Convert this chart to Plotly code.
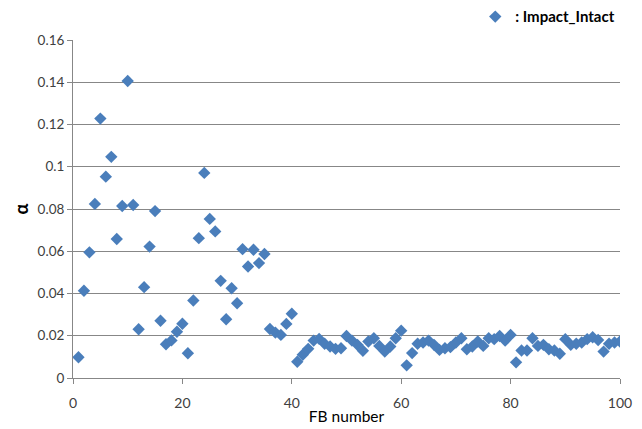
import plotly.graph_objects as go

fb_number = list(range(1, 101))
alpha = [
    0.0098, 0.0413, 0.0595, 0.0824, 0.1228, 0.0953, 0.1047, 0.0658, 0.0814, 0.1406,
    0.0819, 0.0231, 0.0430, 0.0622, 0.0790, 0.0271, 0.0160, 0.0178, 0.0219, 0.0257,
    0.0117, 0.0367, 0.0662, 0.0971, 0.0753, 0.0694, 0.0460, 0.0278, 0.0425, 0.0354,
    0.0610, 0.0528, 0.0607, 0.0544, 0.0587, 0.0232, 0.0215, 0.0204, 0.0256, 0.0304,
    0.0077, 0.0110, 0.0138, 0.0177, 0.0185, 0.0162, 0.0149, 0.0138, 0.0141, 0.0199,
    0.0177, 0.0157, 0.0129, 0.0173, 0.0188, 0.0152, 0.0125, 0.0149, 0.0188, 0.0224,
    0.0060, 0.0118, 0.0162, 0.0168, 0.0177, 0.0157, 0.0133, 0.0141, 0.0146, 0.0168,
    0.0188, 0.0136, 0.0149, 0.0173, 0.0152, 0.0188, 0.0184, 0.0199, 0.0177, 0.0204,
    0.0074, 0.0130, 0.0130, 0.0188, 0.0152, 0.0157, 0.0136, 0.0130, 0.0115, 0.0184,
    0.0157, 0.0162, 0.0168, 0.0184, 0.0193, 0.0180, 0.0125, 0.0162, 0.0168, 0.0173,
]
x_ticks = [0, 20, 40, 60, 80, 100]
y_ticks = [0, 0.02, 0.04, 0.06, 0.08, 0.1, 0.12, 0.14, 0.16]
y_tick_labels = ["0", "0.02", "0.04", "0.06", "0.08", "0.1", "0.12", "0.14", "0.16"]

FONT = "Lato, 'Open Sans', sans-serif"
AXIS_COL = "#878787"

fig = go.Figure()
fig.add_trace(go.Scatter(
    x=fb_number, y=alpha, mode="markers", name="<b>: Impact_Intact</b>",
    marker=dict(symbol="diamond", size=9.5, color="#4A7EBB", line=dict(width=0)),
))

fig.update_layout(
    width=634, height=421,
    margin=dict(l=65, r=22, t=32, b=51, autoexpand=False),
    paper_bgcolor="white", plot_bgcolor="white",
    font=dict(family=FONT, size=13, color="#404040"),
    showlegend=True,
    legend=dict(xref="container", yref="container",
                x=0.737, xanchor="left", y=0.979, yanchor="middle",
                font=dict(family=FONT, size=15, color="#000000"),
                bgcolor="rgba(0,0,0,0)", itemwidth=30, tracegroupgap=0),
    xaxis=dict(
        range=[0, 100], tickvals=x_ticks, showgrid=False, zeroline=False,
        showline=True, linecolor=AXIS_COL, linewidth=1,
        ticks="outside", ticklen=5, tickcolor=AXIS_COL, ticklabelstandoff=7,
        tickfont=dict(family=FONT, size=14, color="#404040"),
        title=dict(text="FB number", font=dict(family=FONT, size=15.5, color="#000000"), standoff=1),
    ),
    yaxis=dict(
        range=[0, 0.16], tickvals=y_ticks, ticktext=y_tick_labels,
        showgrid=True, gridcolor=AXIS_COL, gridwidth=1, zeroline=False,
        showline=True, linecolor=AXIS_COL, linewidth=1,
        ticks="outside", ticklen=5, tickcolor=AXIS_COL,
        tickfont=dict(family=FONT, size=13.5, color="#404040"),
        title=dict(text="<b>α</b>", font=dict(family=FONT, size=18, color="#000000"), standoff=4),
    ),
)

fig.write_html("out.html")
